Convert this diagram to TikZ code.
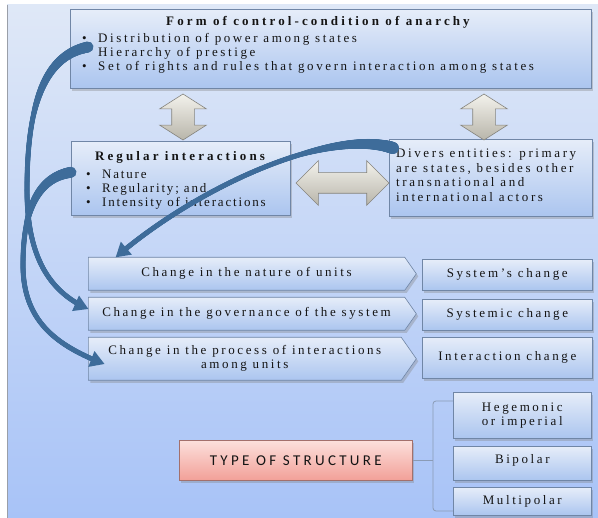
\documentclass[tikz,border=0pt]{standalone}
\usepackage{fontspec}
\setmainfont[LetterSpace=20]{Liberation Serif}
\newfontfamily\capsfont[LetterSpace=22]{Carlito}
\usetikzlibrary{shapes.arrows,shapes.symbols,shadows,decorations.markings,calc}

\definecolor{panelTop}{HTML}{DFE8F7}
\definecolor{panelBot}{HTML}{A8C3F7}
\definecolor{panelEdge}{HTML}{9A9FA8}
\definecolor{boxTop}{HTML}{E6EDF9}
\definecolor{boxBot}{HTML}{ABC5EF}
\definecolor{boxEdge}{HTML}{7086A6}
\definecolor{flowBlue}{HTML}{3E6C9A}
\definecolor{greyTop}{HTML}{F3F2EC}
\definecolor{greyBot}{HTML}{B8B5AA}
\definecolor{greyEdge}{HTML}{85847E}
\definecolor{pinkTop}{HTML}{FCE0DC}
\definecolor{pinkBot}{HTML}{F2A098}
\definecolor{pinkEdge}{HTML}{A3706C}
\definecolor{inkText}{HTML}{141414}
\definecolor{braceCol}{HTML}{8A9BB5}

\newcommand\bulletrow[1]{\makebox[16pt][l]{\textbullet}#1}
\newcommand\headingfont{\fontsize{13}{15}\bfseries\addfontfeature{LetterSpace=24}}

\begin{document}
\begin{tikzpicture}[x=1pt,y=-1pt,
  font=\fontsize{13}{14}\selectfont, text=inkText,
  bluebox/.style={draw=boxEdge, line width=0.6pt, top color=boxTop, bottom color=boxBot,
    drop shadow={shadow xshift=2pt, shadow yshift=-2.5pt, opacity=0.35},
    inner sep=0pt, align=center, anchor=north west},
  changebox/.style={bluebox, signal, signal to=east, signal pointer angle=110},
  greyarrow/.style={draw=greyEdge, line width=0.6pt, top color=greyTop, bottom color=greyBot,
    double arrow, inner sep=0pt, text depth=0pt, double arrow head extend=12pt},
  listtext/.style={anchor=north west, align=left, inner sep=0pt},
  bracketline/.style={draw=braceCol, line width=0.8pt, rounded corners=3pt},
  taperflow/.style n args={3}{%
    postaction={decorate, decoration={markings,
      mark=between positions 0 and -9pt step 0.5pt with {%
        \pgfmathsetmacro\flowd{\pgfkeysvalueof{/pgf/decoration/mark info/distance from start}}%
        \pgfmathsetmacro\flowr{0.5*(#2+(#1-#2)*max(0,1-\flowd/(#3*\pgfdecoratedpathlength)))}%
        \fill[flowBlue] (0,0) circle (\flowr pt);}}},
    postaction={decorate, decoration={markings,
      mark=at position 0.998 with {%
        \fill[flowBlue] (1,0) -- (-13,8.5) -- (-13,-8.5) -- cycle;}}}}
]
\useasboundingbox (0,0) rectangle (598,518);
\fill[white] (0,0) rectangle (598,518);

% backdrop panel
\shade[top color=panelTop, bottom color=panelBot] (7,5) rectangle (598,518);
\draw[panelEdge, line width=1pt] (7.5,5) -- (7.5,518);

% form of control
\node[bluebox, minimum width=521, minimum height=79] (control) at (70,9) {};
\node[anchor=base, font=\headingfont] (controlTitle) at (318,26)
  {Form of control-condition of anarchy};
\node[listtext] (controlList) at (82,33)
  {\bulletrow{Distribution of power among states}\\
   \bulletrow{Hierarchy of prestige}\\
   \bulletrow{Set of rights and rules that govern interaction among states}};

% regular interactions
\node[bluebox, minimum width=219, minimum height=74] (regular) at (71,141) {};
\node[anchor=base, font=\headingfont] (regularTitle) at (180,161)
  {Regular interactions};
\node[listtext, font=\fontsize{13}{14}\selectfont\addfontfeature{LetterSpace=14}]
  (regularList) at (86,170)
  {\bulletrow{Nature}\\ \bulletrow{Regularity; and}\\ \bulletrow{Intensity of interactions}};

% divers entities
\node[bluebox, minimum width=203, minimum height=77] (divers) at (389,139) {};
\node[listtext, font=\fontsize{13}{14.5}\selectfont] (diversText) at (396,149)
  {Divers entities: primary\\ are states, besides other\\ transnational and\\ international actors};

% block arrows between the upper boxes
\node[greyarrow, rotate=90, minimum height=46, text height=22pt,
      double arrow tip angle=115] (linkA) at (183,117) {};
\node[greyarrow, rotate=90, minimum height=46, text height=22pt,
      double arrow tip angle=115] (linkB) at (484,117) {};
\node[greyarrow, minimum height=93, text height=20pt,
      double arrow tip angle=90] (linkC) at (342.5,183) {};

% kinds of change
\node[changebox, minimum width=328, minimum height=33] (nature) at (88,257)
  {Change in the nature of units};
\node[changebox, minimum width=328, minimum height=33] (governance) at (88,297)
  {Change in the governance of the system};
\node[changebox, minimum width=328, minimum height=43] (process) at (88,337)
  {Change in the process of interactions\\ among units};
\node[bluebox, minimum width=170, minimum height=31] (sysChange) at (422,259)
  {System’s change};
\node[bluebox, minimum width=170, minimum height=31] (systemic) at (422,299)
  {Systemic change};
\node[bluebox, minimum width=170, minimum height=41] (interaction) at (422,337)
  {Interaction change};

% curved flows
\path[taperflow={11}{5}{0.3}] ($(control.north west)+(18,38)$)
  .. controls (42,56) and (27,110) .. (27,190)
  .. controls (27,250) and (45,290) .. ($(governance.west)+(0,-5)$);
\path[taperflow={11}{5}{0.3}] ($(regular.west)+(0,-6)$)
  .. controls (35,178) and (23,215) .. (23,265)
  .. controls (23,320) and (55,345) .. ($(process.west)+(16,5)$);
\path[taperflow={12}{5}{0.3}] ($(divers.north west)+(4,9)$)
  .. controls (330,128) and (200,185) .. ($(nature.north west)+(28,0)$);

% structure types
\node[bluebox, draw=pinkEdge, top color=pinkTop, bottom color=pinkBot,
      minimum width=233, minimum height=40, font=\capsfont\fontsize{15}{17}\selectfont]
  (structure) at (179,440) {TYPE OF STRUCTURE};
\node[bluebox, minimum width=138, minimum height=46] (hegemonic) at (453,392)
  {Hegemonic\\ or imperial};
\node[bluebox, minimum width=138, minimum height=34] (bipolar) at (453,446) {};
\node[anchor=base] (bipolarText) at (bipolar.center |- 0,464) {Bipolar};
\node[bluebox, minimum width=138, minimum height=28] (multipolar) at (453,487) {Multipolar};

\coordinate (braceTop) at (433,401);
\coordinate (braceBot) at (433,511);
\draw[bracketline] (hegemonic.west |- braceTop) -- (braceTop) -- (braceBot)
  -- (multipolar.west |- braceBot);
\draw[bracketline] (structure.east) -- (structure.east -| braceTop);
\end{tikzpicture}
\end{document}
